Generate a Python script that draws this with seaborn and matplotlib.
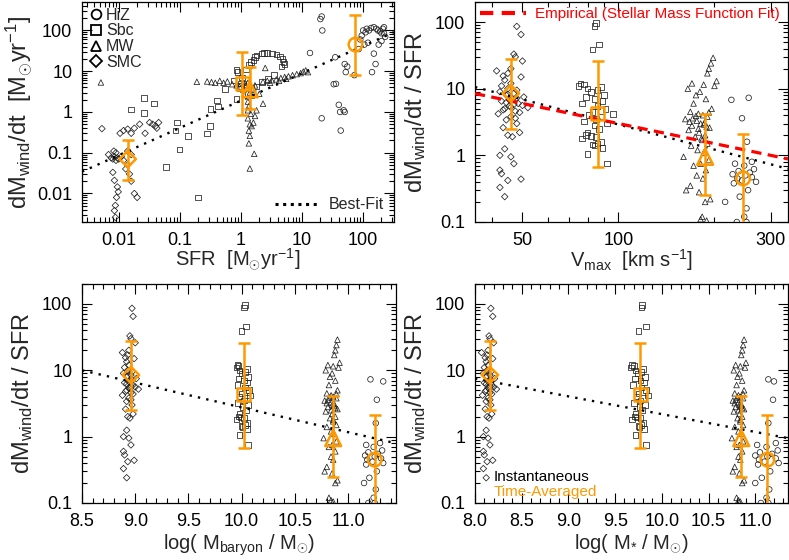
import numpy as np
import pandas as pd
import matplotlib
matplotlib.use("Agg")
import matplotlib.pyplot as plt
import seaborn as sns
from matplotlib.lines import Line2D
from matplotlib.ticker import FixedLocator, NullFormatter, FuncFormatter, MultipleLocator, LogLocator

# ---------------- data ----------------
groups = ["HiZ", "Sbc", "MW", "SMC"]
markers = {"HiZ": "o", "Sbc": "s", "MW": "^", "SMC": "D"}

# top-left: SFR vs outflow rate
smc_sfr = [0.0053, 0.0068, 0.0075, 0.008, 0.0085, 0.009, 0.0095, 0.010, 0.011, 0.012, 0.0083, 0.009, 0.0105, 0.012,
           0.014, 0.016, 0.018, 0.022, 0.027, 0.032, 0.036, 0.04, 0.042, 0.045, 0.008, 0.0085, 0.0095, 0.0098, 0.0092,
           0.0088, 0.0085, 0.0088, 0.013, 0.014, 0.015, 0.016, 0.018, 0.02, 0.014, 0.016]
smc_mdot = [0.39, 0.09, 0.075, 0.07, 0.08, 0.065, 0.075, 0.07, 0.08, 0.065, 0.11, 0.1, 0.3, 0.35, 0.38, 0.3, 0.4, 0.5,
            0.3, 0.55, 0.5, 0.45, 0.4, 0.55, 0.033, 0.021, 0.0145, 0.011, 0.008, 0.0051, 0.0038, 0.0026, 0.04, 0.05,
            0.03, 0.02, 0.01, 0.008, 0.11, 0.09]
sbc_sfr = [0.016, 0.026, 0.026, 0.038, 0.059, 0.085, 0.09, 0.098, 0.137, 0.2, 0.28, 0.31, 0.32, 0.41, 0.42, 0.55, 0.75,
           0.85, 0.96, 0.85, 0.88, 1.0, 1.05, 1.2, 1.35, 1.45, 1.6, 1.7, 1.8, 2.2, 2.4, 2.7, 3.2, 3.8, 4.4, 4.8, 5.0,
           5.2, 4.6, 3.5, 2.8, 2.2, 1.8, 1.5, 1.3, 1.1, 0.95]
sbc_mdot = [1.15, 2.2, 0.95, 1.6, 0.045, 0.35, 0.55, 0.12, 0.26, 0.008, 0.3, 0.45, 1.2, 1.9, 1.35, 3.7, 5.9, 2.1, 4.3,
            10.8, 9.5, 5, 7, 11, 14, 17, 19, 22, 24, 27, 28, 28, 27, 26, 23, 20, 17, 15, 13, 8, 6.5, 5.5, 4.2, 3.6,
            2.8, 4.8, 3.8]
mw_sfr = [0.0051, 0.19, 0.28, 0.33, 0.38, 0.45, 0.52, 0.6, 0.72, 0.85, 0.95, 1.1, 1.2, 1.3, 1.4, 1.5, 1.6, 1.7, 1.3,
          1.35, 1.3, 1.45, 1.3, 1.4, 1.5, 1.6, 1.35, 1.4, 1.35, 1.65, 1.4, 1.8, 1.7, 2.3, 2.0, 2.3, 2.7, 3.2, 3.8,
          4.5, 5.2, 6.0, 7.0, 8.2, 9.5, 10.5, 11.5, 12.5, 2.5, 3.0, 4.2, 5.5]
mw_mdot = [5.3, 5.5, 5.6, 5.4, 5.2, 5.8, 5.2, 5.6, 4.8, 4.5, 4.2, 3.5, 4.5, 5.2, 3.0, 2.5, 3.8, 4.5, 1.8, 1.4, 1.1,
           0.9, 0.7, 0.5, 0.45, 0.55, 0.35, 0.26, 0.17, 0.094, 0.041, 1.1, 0.8, 1.6, 2.8, 5.5, 5.8, 6.0, 6.3, 6.8,
           7.2, 7.5, 8.0, 8.5, 9.0, 9.8, 10.5, 9.5, 12, 5.2, 5.8, 6.5]
hiz_sfr = [13.5, 20, 21, 21.5, 21, 33, 36, 35, 40, 42, 43, 48, 50, 50, 52, 55, 72, 85, 90, 95, 100, 110, 115, 125,
           135, 150, 165, 175, 190, 200, 210, 220, 140, 150, 160, 180, 200, 220, 230, 120, 105]
hiz_mdot = [28, 190, 220, 100, 0.7, 4.8, 4.9, 22, 1.5, 1.0, 0.35, 1.1, 1.0, 15, 9.5, 13, 8, 35, 60, 75, 100, 90, 110,
            100, 115, 120, 110, 100, 95, 85, 110, 120, 9.5, 27, 15, 45, 55, 85, 70, 50, 45]

# mass loading (dMwind/dt / SFR) and galaxy properties
smc_eta = [86, 65, 33, 30, 26, 20, 18.5, 17, 15.5, 15, 13.5, 12, 11, 10, 9.5, 9, 8.5, 8, 7.5, 7, 6.5, 6, 5.5, 5.2, 5,
           4.6, 4.2, 3.8, 3.4, 3.0, 2.6, 2.2, 2.0, 1.9, 1.25, 1.0, 0.95, 0.75, 0.6, 0.53, 0.44, 0.42, 0.33, 0.24,
           6.8, 5.8, 4.8, 7.2, 5.3, 6.2, 4.4, 3.6, 8.2, 5.6]
smc_v = [48, 49.5, 47, 47.5, 50, 46, 41.5, 45, 43.5, 49.5, 44, 46, 43, 45, 48, 42.5, 47, 44.5, 50.5, 46.5, 43, 48.5,
         45.5, 52, 44, 47.5, 42, 46, 44.5, 48, 43.5, 49, 45, 46.5, 44, 42.5, 46, 47, 42.5, 43, 49.5, 45, 42.5, 44,
         45.5, 47, 43.5, 48, 46, 44.5, 49, 47.5, 45, 50]
smc_mb = [8.97, 8.98, 8.95, 8.96, 9.0, 8.94, 8.88, 8.93, 8.91, 8.99, 8.92, 8.94, 8.9, 8.93, 8.97, 8.89, 8.96, 8.92,
          9.01, 8.95, 8.9, 8.98, 8.94, 9.03, 8.92, 8.96, 8.88, 8.94, 8.92, 8.97, 8.91, 8.98, 8.93, 8.95, 8.92, 8.89,
          8.94, 8.96, 8.89, 8.9, 8.99, 8.93, 8.89, 8.92, 8.94, 8.96, 8.91, 8.97, 8.95, 8.92, 8.98, 8.96, 8.93, 9.0]
smc_ms = [8.17, 8.19, 8.15, 8.16, 8.2, 8.14, 8.07, 8.13, 8.11, 8.19, 8.12, 8.14, 8.1, 8.13, 8.17, 8.09, 8.16, 8.12,
          8.21, 8.15, 8.1, 8.18, 8.14, 8.23, 8.12, 8.16, 8.08, 8.14, 8.12, 8.17, 8.11, 8.18, 8.13, 8.15, 8.12, 8.09,
          8.14, 8.16, 8.09, 8.1, 8.19, 8.13, 8.09, 8.12, 8.14, 8.16, 8.11, 8.17, 8.15, 8.12, 8.18, 8.16, 8.13, 8.2]

sbc_eta = [97, 88, 46, 39, 12, 11.5, 11, 10.5, 10, 9.5, 9, 8, 7.5, 7, 6.5, 6, 5.5, 5, 4.5, 4.2, 4.0, 3.8, 3.5, 3.2,
           3.0, 2.8, 2.5, 2.2, 2.0, 1.95, 1.9, 1.8, 1.6, 1.5, 1.45, 1.4, 1.3, 1.05, 0.75]
sbc_v = [85, 84, 87, 83, 76, 78, 75, 88, 80, 86, 82, 90, 79, 84, 89, 77, 86, 91, 83, 96, 81, 88, 85, 78, 92, 84, 87,
         80, 79, 82, 85, 77, 88, 86, 83, 84, 89, 80, 92]
sbc_mb = [10.03, 10.02, 10.04, 10.0, 9.96, 9.97, 9.95, 10.05, 9.98, 10.03, 10.0, 10.06, 9.97, 10.02, 10.05, 9.96,
          10.03, 10.07, 10.0, 10.08, 9.98, 10.05, 10.02, 9.96, 10.06, 10.01, 10.04, 9.98, 9.97, 9.99, 10.02, 9.95,
          10.05, 10.03, 10.0, 10.01, 10.05, 9.98, 10.06]
sbc_ms = [9.79, 9.78, 9.83, 9.75, 9.68, 9.7, 9.67, 9.8, 9.72, 9.78, 9.74, 9.82, 9.71, 9.77, 9.81, 9.69, 9.78, 9.83,
          9.75, 9.85, 9.73, 9.8, 9.77, 9.7, 9.82, 9.76, 9.79, 9.72, 9.71, 9.73, 9.77, 9.68, 9.8, 9.78, 9.75, 9.76,
          9.81, 9.72, 9.83]

mw_eta = [29, 24, 20, 17, 13, 12, 11.5, 11, 10, 9, 8, 7, 6, 5, 4.5, 4.2, 4.0, 3.8, 3.5, 3.3, 3.1, 3.0, 2.8, 2.6, 2.4,
          2.2, 2.0, 1.9, 1.7, 1.5, 1.4, 1.2, 1.1, 0.95, 0.85, 0.75, 0.7, 0.6, 0.5, 0.45, 0.35, 0.3, 0.28, 0.22, 0.2,
          0.12, 0.11, 0.105, 3.6, 2.9, 4.4, 3.2, 2.5, 1.8, 3.9, 2.7]
mw_v = [198, 195, 192, 190, 203, 170, 185, 200, 165, 180, 175, 188, 172, 196, 168, 178, 184, 190, 162, 176, 186, 181,
        170, 193, 166, 179, 187, 174, 183, 190, 169, 177, 185, 160, 192, 181, 172, 188, 176, 184, 168, 163, 179, 194,
        187, 183, 181, 189, 171, 185, 192, 167, 178, 182, 175, 189]
mw_mb = [10.9, 10.89, 10.88, 10.87, 10.92, 10.81, 10.86, 10.91, 10.79, 10.85, 10.83, 10.88, 10.82, 10.9, 10.8, 10.84,
         10.86, 10.89, 10.78, 10.84, 10.87, 10.85, 10.81, 10.9, 10.79, 10.85, 10.88, 10.83, 10.86, 10.89, 10.8, 10.84,
         10.87, 10.77, 10.89, 10.85, 10.82, 10.88, 10.84, 10.86, 10.8, 10.78, 10.85, 10.9, 10.88, 10.82, 10.84, 10.86,
         10.81, 10.87, 10.89, 10.8, 10.84, 10.86, 10.83, 10.88]
mw_ms = [10.88, 10.87, 10.86, 10.85, 10.9, 10.79, 10.84, 10.89, 10.77, 10.83, 10.81, 10.86, 10.8, 10.88, 10.78, 10.82,
         10.84, 10.87, 10.76, 10.82, 10.85, 10.83, 10.79, 10.88, 10.77, 10.83, 10.86, 10.81, 10.84, 10.87, 10.78, 10.82,
         10.85, 10.75, 10.87, 10.83, 10.8, 10.86, 10.82, 10.84, 10.78, 10.76, 10.83, 10.88, 10.86, 10.8, 10.82, 10.84,
         10.79, 10.85, 10.87, 10.78, 10.82, 10.84, 10.81, 10.86]

hiz_eta = [7.3, 6.8, 3.6, 1.6, 0.8, 0.75, 0.7, 0.62, 0.58, 0.55, 0.52, 0.5, 0.47, 0.45, 0.42, 0.4, 0.38, 0.3, 0.24,
           0.2, 0.16, 0.12, 0.1, 0.1]
hiz_v = [256, 226, 244, 253, 262, 232, 248, 266, 238, 258, 228, 250, 262, 236, 244, 270, 230, 255, 240, 216, 252, 248,
         235, 252]
hiz_mb = [11.21, 11.33, 11.27, 11.26, 11.3, 11.17, 11.24, 11.32, 11.19, 11.28, 11.16, 11.25, 11.31, 11.18, 11.23,
          11.33, 11.17, 11.27, 11.2, 11.15, 11.26, 11.24, 11.19, 11.25]
hiz_ms = [11.14, 11.2, 11.19, 11.14, 11.22, 11.02, 11.12, 11.24, 11.05, 11.18, 11.0, 11.13, 11.22, 11.04, 11.1,
          11.25, 11.03, 11.16, 11.07, 11.0, 11.15, 11.12, 11.06, 11.14]

# time-averaged summary values (order: HiZ, Sbc, MW, SMC)
tl_sum_x = [75, 1.05, 1.4, 0.014]
tl_sum_y = [45, 5.0, 3.6, 0.07]
tl_sum_lo = [8, 0.85, 1.2, 0.022]
tl_sum_hi = [240, 30, 12.5, 0.21]
eta_sum = [0.45, 4.3, 0.95, 8.5]
eta_lo = [0.08, 0.67, 0.25, 2.5]
eta_hi = [2.1, 26, 4.1, 28]
v_sum = [246, 86, 187, 46]
mb_sum = [11.25, 10.02, 10.86, 8.96]
ms_sum = [11.13, 9.77, 10.85, 8.16]

# fits
tl_fit_amp, tl_fit_slope = 1.9, 0.67          # Mdot = A * SFR^s
tr_fit_amp, tr_fit_slope = 2.9, -1.25         # eta = A * (V/100)^s
emp_amp, emp_slope = 3.0, -1.0                # empirical
bl_fit_log0, bl_fit_slope = 1.0, -0.373       # log eta = a + s (x - 8.5)
br_fit_log0, br_fit_slope = 0.875, -0.268     # log eta = a + s (x - 8.0)

# ---------------- style ----------------
sns.set_style("ticks")
plt.rcParams["font.family"] = ["Liberation Sans", "DejaVu Sans"]
plt.rcParams["mathtext.fontset"] = "custom"
plt.rcParams["mathtext.rm"] = "Liberation Sans"
plt.rcParams["mathtext.it"] = "Liberation Sans:italic"
plt.rcParams["mathtext.bf"] = "Liberation Sans:bold"

ORANGE = "#FF9900"
TICK_FS = 13
XLAB_FS = 14.5
YLAB_FS = 17

fig = plt.figure(figsize=(7.89, 5.6), dpi=100)
ax_tl = fig.add_axes([0.1039, 0.6036, 0.3954, 0.3929])
ax_tr = fig.add_axes([0.6020, 0.6036, 0.3967, 0.3929])
ax_bl = fig.add_axes([0.1039, 0.1018, 0.3980, 0.3911])
ax_br = fig.add_axes([0.6020, 0.1018, 0.3967, 0.3911])


def style_axes(ax):
    ax.tick_params(which="both", direction="in", top=True, right=True, colors="k", width=0.8)
    ax.tick_params(which="major", length=7, pad=7, labelsize=TICK_FS)
    ax.tick_params(which="minor", length=3.5)
    for s in ax.spines.values():
        s.set_linewidth(0.9)
        s.set_color("k")


gfmt = FuncFormatter(lambda v, p: "%g" % v)


def log_y(ax, lo, hi, majors):
    ax.set_yscale("log")
    ax.set_ylim(lo, hi)
    ax.yaxis.set_major_locator(FixedLocator(majors))
    ax.yaxis.set_major_formatter(gfmt)
    ax.yaxis.set_minor_locator(LogLocator(base=10, subs=np.arange(2, 10)))
    ax.yaxis.set_minor_formatter(NullFormatter())


def small_points(ax, x, y, g):
    sns.scatterplot(x=x, y=y, marker=markers[g], s=16 if g != "SMC" else 11, facecolor="none",
                    edgecolor="#222222", linewidth=0.55, ax=ax, zorder=2, legend=False)


def summary(ax, xs, ys, lo, hi):
    ys = np.array(ys); lo = np.array(lo); hi = np.array(hi)
    ax.errorbar(xs, ys, yerr=[ys - lo, hi - ys], fmt="none", ecolor=ORANGE, elinewidth=1.8,
                capsize=4.5, capthick=1.8, zorder=4)
    for i, g in enumerate(groups):
        sz = {"HiZ": 95, "Sbc": 90, "MW": 130, "SMC": 70}[g]
        sns.scatterplot(x=[xs[i]], y=[ys[i]], marker=markers[g], s=sz, facecolor="none",
                        edgecolor=ORANGE, linewidth=1.8, ax=ax, zorder=5, legend=False)


# ---------------- top-left ----------------
ax = ax_tl
tl_data = {"HiZ": (hiz_sfr, hiz_mdot), "Sbc": (sbc_sfr, sbc_mdot), "MW": (mw_sfr, mw_mdot), "SMC": (smc_sfr, smc_mdot)}
for g in groups:
    small_points(ax, tl_data[g][0], tl_data[g][1], g)
ax.set_xscale("log")
xl = (0.0025, 320)
ax.set_xlim(*xl)
ax.xaxis.set_major_locator(FixedLocator([0.01, 0.1, 1, 10, 100]))
ax.xaxis.set_major_formatter(gfmt)
ax.xaxis.set_minor_locator(LogLocator(base=10, subs=np.arange(2, 10)))
ax.xaxis.set_minor_formatter(NullFormatter())
log_y(ax, 0.002, 500, [0.01, 0.1, 1, 10, 100])
fx = np.array(xl)
sns.lineplot(x=fx, y=tl_fit_amp * fx ** tl_fit_slope, ax=ax, color="k", lw=1.7, ls=(0, (1, 2.6)), zorder=3)
summary(ax, tl_sum_x, tl_sum_y, tl_sum_lo, tl_sum_hi)
style_axes(ax)
ax.set_xlabel(r"SFR  [M$_{\odot}$yr$^{-1}$]", fontsize=XLAB_FS)
ax.set_ylabel(r"dM$_{\rm wind}$/dt  [M$_{\odot}$yr$^{-1}$]", fontsize=YLAB_FS)
h = [Line2D([], [], marker=markers[g], ls="none", mfc="none", mec="k", mew=1.3, ms=7 if g != "SMC" else 6)
     for g in groups]
leg1 = ax.legend(h, groups, loc="upper left", frameon=False, fontsize=11.5, handletextpad=0.15, labelspacing=0.05,
                 borderaxespad=0.15, handlelength=1.0, borderpad=0.2)
ax.add_artist(leg1)
ax.legend([Line2D([], [], color="k", lw=2.2, ls=(0, (1, 1.5)))], ["Best-Fit"], loc="lower right", frameon=False,
          fontsize=11.5, handlelength=2.8, borderaxespad=0.2, handletextpad=0.6)

# ---------------- ratio panels ----------------
ratio_eta = {"HiZ": hiz_eta, "Sbc": sbc_eta, "MW": mw_eta, "SMC": smc_eta}
ratio_x = {
    "tr": {"HiZ": hiz_v, "Sbc": sbc_v, "MW": mw_v, "SMC": smc_v},
    "bl": {"HiZ": hiz_mb, "Sbc": sbc_mb, "MW": mw_mb, "SMC": smc_mb},
    "br": {"HiZ": hiz_ms, "Sbc": sbc_ms, "MW": mw_ms, "SMC": smc_ms},
}
eta_label = r"dM$_{\rm wind}$/dt / SFR"

# top-right
ax = ax_tr
for g in groups:
    small_points(ax, ratio_x["tr"][g], ratio_eta[g], g)
ax.set_xscale("log")
xl = (35.5, 340)
ax.set_xlim(*xl)
ax.xaxis.set_major_locator(FixedLocator([50, 100, 300]))
ax.xaxis.set_major_formatter(gfmt)
ax.xaxis.set_minor_locator(FixedLocator([40, 60, 70, 80, 90, 200]))
ax.xaxis.set_minor_formatter(NullFormatter())
log_y(ax, 0.1, 200, [0.1, 1, 10, 100])
fx = np.array(xl)
sns.lineplot(x=fx, y=tr_fit_amp * (fx / 100) ** tr_fit_slope, ax=ax, color="k", lw=1.7, ls=(0, (1, 2.6)), zorder=3)
sns.lineplot(x=fx, y=emp_amp * (fx / 100) ** emp_slope, ax=ax, color="#FF0000", lw=2.3, ls=(0, (3.2, 2.0)), zorder=3)
summary(ax, v_sum, eta_sum, eta_lo, eta_hi)
style_axes(ax)
ax.set_xlabel(r"V$_{\rm max}$  [km s$^{-1}$]", fontsize=XLAB_FS)
ax.set_ylabel(eta_label, fontsize=YLAB_FS)
ax.legend([Line2D([], [], color="#FF0000", lw=3, ls=(0, (3.2, 2.0)))], ["Empirical (Stellar Mass Function Fit)"],
          loc="upper left", frameon=False, fontsize=11, labelcolor="#FF0000", handlelength=3.0,
          borderaxespad=0.1, handletextpad=0.6, borderpad=0.25)

# bottom-left
ax = ax_bl
for g in groups:
    small_points(ax, ratio_x["bl"][g], ratio_eta[g], g)
xl = (8.5, 11.45)
ax.set_xlim(*xl)
ax.xaxis.set_major_locator(MultipleLocator(0.5))
ax.xaxis.set_minor_locator(MultipleLocator(0.1))
ax.xaxis.set_major_formatter(FuncFormatter(lambda v, p: "%.1f" % v))
log_y(ax, 0.1, 200, [0.1, 1, 10, 100])
fx = np.array(xl)
sns.lineplot(x=fx, y=10 ** (bl_fit_log0 + bl_fit_slope * (fx - 8.5)), ax=ax, color="k", lw=1.7,
             ls=(0, (1, 2.6)), zorder=3)
summary(ax, mb_sum, eta_sum, eta_lo, eta_hi)
style_axes(ax)
ax.set_xlabel(r"log( M$_{\rm baryon}$ / M$_{\odot}$)", fontsize=XLAB_FS)
ax.set_ylabel(eta_label, fontsize=YLAB_FS)

# bottom-right
ax = ax_br
for g in groups:
    small_points(ax, ratio_x["br"][g], ratio_eta[g], g)
xl = (8.0, 11.35)
ax.set_xlim(*xl)
ax.xaxis.set_major_locator(MultipleLocator(0.5))
ax.xaxis.set_minor_locator(MultipleLocator(0.1))
ax.xaxis.set_major_formatter(FuncFormatter(lambda v, p: "%.1f" % v))
log_y(ax, 0.1, 200, [0.1, 1, 10, 100])
fx = np.array(xl)
sns.lineplot(x=fx, y=10 ** (br_fit_log0 + br_fit_slope * (fx - 8.0)), ax=ax, color="k", lw=1.7,
             ls=(0, (1, 2.6)), zorder=3)
summary(ax, ms_sum, eta_sum, eta_lo, eta_hi)
style_axes(ax)
ax.set_xlabel(r"log( M$_{*}$ / M$_{\odot}$)", fontsize=XLAB_FS)
ax.set_ylabel(eta_label, fontsize=YLAB_FS)
ax.text(0.06, 0.118, "Instantaneous", transform=ax.transAxes, fontsize=11, color="k", va="center", ha="left")
ax.text(0.06, 0.052, "Time-Averaged", transform=ax.transAxes, fontsize=11, color=ORANGE, va="center", ha="left")

for a in (ax_tl, ax_tr, ax_bl, ax_br):
    a.yaxis.set_label_coords(-0.15, 0.5)
for a in (ax_tl, ax_tr):
    a.xaxis.set_label_coords(0.5, -0.115)
for a in (ax_bl, ax_br):
    a.xaxis.set_label_coords(0.5, -0.135)

fig.savefig("out.png", dpi=100)
